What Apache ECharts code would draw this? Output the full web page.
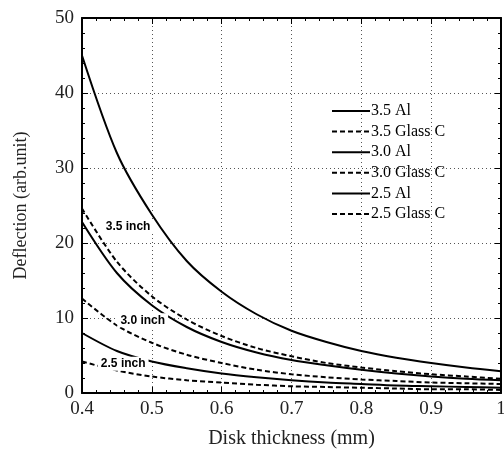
<!DOCTYPE html>
<html>
<head>
<meta charset="utf-8">
<script src="https://cdn.jsdelivr.net/npm/echarts@6/dist/echarts.min.js"></script>
<style>
html,body{margin:0;padding:0;background:#fff;}
#pic1{width:504px;height:449px;}
</style>
</head>
<body>
<div id="pic1"></div>
<script>
// 盘片厚度与挠度
var thickness = [0.4, 0.45, 0.5, 0.55, 0.6, 0.65, 0.7, 0.75, 0.8, 0.85, 0.9, 0.95, 1.0];
var al35 = [45, 32, 23.8, 17.6, 13.5, 10.5, 8.3, 6.8, 5.6, 4.7, 4.0, 3.4, 2.9];
var glass35 = [24.6, 17.5, 12.9, 9.8, 7.6, 6.0, 4.9, 4.0, 3.4, 2.9, 2.5, 2.2, 1.9];
var al30 = [22.8, 16, 11.7, 8.8, 6.8, 5.4, 4.4, 3.7, 3.1, 2.6, 2.2, 1.9, 1.7];
var glass30 = [12.6, 9, 6.7, 5.1, 4.0, 3.1, 2.5, 2.1, 1.8, 1.6, 1.4, 1.3, 1.2];
var al25 = [8, 5.6, 4.2, 3.3, 2.6, 2.1, 1.7, 1.4, 1.2, 1.0, 0.9, 0.8, 0.7];
var glass25 = [4.2, 3.0, 2.2, 1.7, 1.4, 1.1, 0.9, 0.8, 0.7, 0.6, 0.5, 0.5, 0.4];
var seriesNames = ['3.5 Al', '3.5 Glass C', '3.0 Al', '3.0 Glass C', '2.5 Al', '2.5 Glass C'];
var xTicks = ['0.4', '0.5', '0.6', '0.7', '0.8', '0.9', '1'];
var sizeLabels = ['3.5 inch', '3.0 inch', '2.5 inch'];

var serif = 'Liberation Serif';
var myChart = echarts.init(document.getElementById('pic1'));

function pairs(ys) {
    return thickness.map(function (x, i) { return [x, ys[i]]; });
}

function line(name, ys, dashed) {
    return {
        name: name,
        type: 'line',
        data: pairs(ys),
        smooth: 0.3,
        symbol: 'none',
        z: 2,
        lineStyle: { color: '#000', width: 2, type: dashed ? [5, 3] : 'solid' }
    };
}

function tag(text, x, y) {
    return {
        coord: [x, y],
        symbolSize: 0,
        label: {
            show: true,
            formatter: text,
            position: 'inside',
            fontFamily: 'Liberation Sans',
            fontWeight: 'bold',
            fontSize: 12,
            color: '#000',
            backgroundColor: '#fff',
            padding: [1, 3]
        }
    };
}

var frame = { show: true, onZero: false, lineStyle: { color: '#000', width: 2 } };
var ticksIn = { show: true, inside: true, length: 6, lineStyle: { color: '#000' } };
var minorIn = { show: true, splitNumber: 5, length: 3, lineStyle: { color: '#000' } };
var dotted = { show: true, lineStyle: { color: '#555', width: 1, type: [1, 3] } };

var allSeries = [
    line(seriesNames[0], al35, false),
    line(seriesNames[1], glass35, true),
    line(seriesNames[2], al30, false),
    line(seriesNames[3], glass30, true),
    line(seriesNames[4], al25, false),
    line(seriesNames[5], glass25, true)
];
allSeries.push({
    type: 'scatter',
    data: [],
    z: 5,
    markPoint: {
        symbol: 'circle',
        symbolSize: 0,
        data: [
            tag(sizeLabels[0], 0.466, 22.2),
            tag(sizeLabels[1], 0.487, 9.7),
            tag(sizeLabels[2], 0.459, 3.9)
        ]
    }
});

option = {
    animation: false,
    backgroundColor: '#fff',
    grid: { left: 82, right: 3, top: 18, bottom: 56, outerBoundsMode: 'none' },
    legend: {
        orient: 'vertical',
        left: 326,
        top: 98,
        itemWidth: 38,
        itemHeight: 14,
        itemGap: 4.6,
        data: seriesNames,
        itemStyle: { opacity: 0 },
        textStyle: { fontFamily: serif, fontSize: 16, lineHeight: 16, color: '#000', padding: [0, 0, 0, -4] }
    },
    xAxis: [{
        type: 'value',
        min: 0.4,
        max: 1,
        interval: 0.1,
        axisLine: frame,
        axisTick: ticksIn,
        minorTick: minorIn,
        splitLine: dotted,
        axisLabel: {
            fontFamily: serif, fontSize: 19, color: '#222', margin: 7,
            formatter: function (v) { return xTicks[Math.round((v - 0.4) * 10)]; }
        },
        name: 'Disk thickness (mm)',
        nameLocation: 'middle',
        nameGap: 36,
        nameTextStyle: { fontFamily: serif, fontSize: 20, color: '#222' }
    }, {
        type: 'value',
        position: 'top',
        min: 0.4,
        max: 1,
        interval: 0.1,
        axisLine: frame,
        axisTick: ticksIn,
        minorTick: minorIn,
        splitLine: { show: false },
        axisLabel: { show: false }
    }],
    yAxis: [{
        type: 'value',
        min: 0,
        max: 50,
        interval: 10,
        axisLine: frame,
        axisTick: ticksIn,
        minorTick: minorIn,
        splitLine: dotted,
        axisLabel: { fontFamily: serif, fontSize: 19, color: '#222', margin: 8 },
        name: 'Deflection (arb.unit)',
        nameLocation: 'middle',
        nameGap: 52,
        nameTextStyle: { fontFamily: serif, fontSize: 18, color: '#222' }
    }, {
        type: 'value',
        position: 'right',
        min: 0,
        max: 50,
        interval: 10,
        axisLine: frame,
        axisTick: ticksIn,
        minorTick: minorIn,
        splitLine: { show: false },
        axisLabel: { show: false }
    }],
    series: allSeries
};

myChart.setOption(option);
</script>
</body>
</html>
